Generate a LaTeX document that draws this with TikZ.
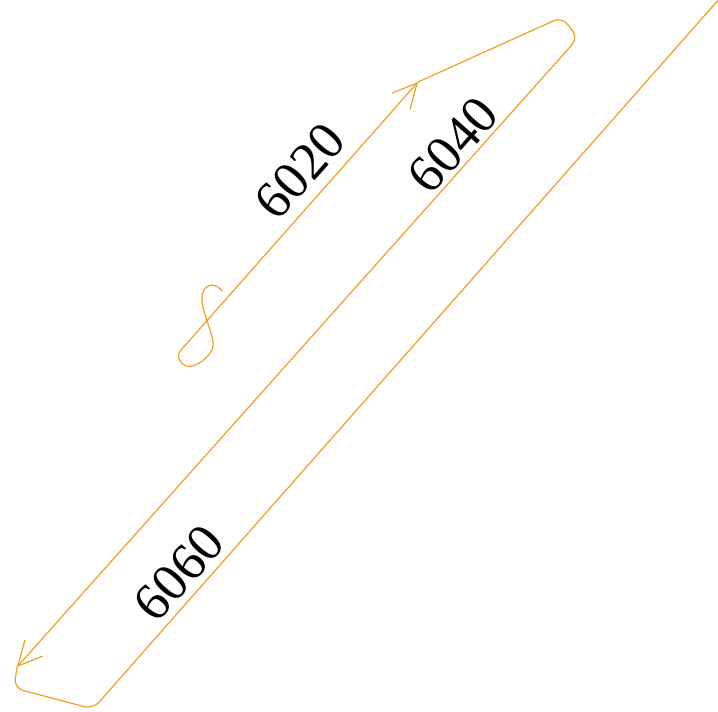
\documentclass[tikz,border=0pt]{standalone}
\usepackage{fontspec}
\setmainfont{Liberation Serif}
\usetikzlibrary{arrows.meta}
\definecolor{routeorange}{RGB}{240,160,32}
\tikzset{
  route/.style    = {draw=routeorange, line width=1.2pt, line join=round, line cap=round},
  routearr/.style = {-{Straight Barb[length=24pt,width=24pt]}},
  kmlabel/.style  = {font=\fontsize{53}{60}\selectfont, inner sep=0pt}
}
\begin{document}
\begin{tikzpicture}[x=1pt,y=-1pt]
  \useasboundingbox (0,0) rectangle (718,712);
  % turning points of the route
  \coordinate (start) at (222,291);
  \coordinate (hook)  at (181,350);
  \coordinate (turnA) at (418,82);
  \coordinate (topA)  at (562,17);
  \coordinate (topB)  at (578,38);
  \coordinate (turnB) at (17,667);
  \coordinate (botA)  at (14,688);
  \coordinate (botB)  at (93,709);
  \coordinate (exit)  at (720,-2);
  % first leg, out of the little loop
  \draw[route,routearr] (start) .. controls (216,282) and (203,283) .. (202,297)
        .. controls (201,312) and (214,333) .. (213,346)
        .. controls (212,356) and (195,369) .. (186,366)
        .. controls (179,363) and (176,355) .. (hook) -- (turnA);
  % second leg, back down to the lower left
  \draw[route,routearr,rounded corners=9pt] (turnA) -- (topA) -- (topB) -- (turnB);
  % last leg, off to the upper right
  \draw[route,rounded corners=9pt] (turnB) -- (botA) -- (botB) -- (exit);
  % distance marks
  \node[kmlabel,rotate=48.5] (k6020) at (300,171) {6020};
  \node[kmlabel,rotate=48.5] (k6040) at (453,145) {6040};
  \node[kmlabel,rotate=48.5] (k6060) at (179,573) {6060};
\end{tikzpicture}
\end{document}
